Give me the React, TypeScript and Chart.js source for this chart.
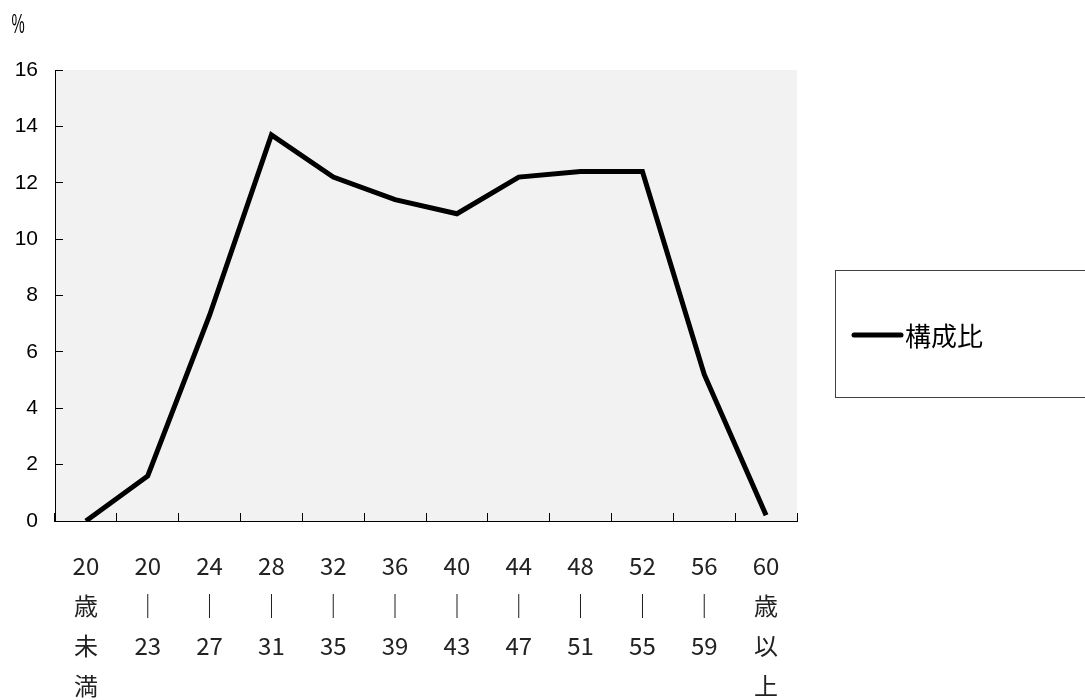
import React, { useEffect, useRef } from "react";
import { Chart, registerables } from "chart.js";

Chart.register(...registerables);

// ---- data ----
const categories: string[][] = [
  ["20", "歳", "未", "満"],
  ["20", "｜", "23"],
  ["24", "｜", "27"],
  ["28", "｜", "31"],
  ["32", "｜", "35"],
  ["36", "｜", "39"],
  ["40", "｜", "43"],
  ["44", "｜", "47"],
  ["48", "｜", "51"],
  ["52", "｜", "55"],
  ["56", "｜", "59"],
  ["60", "歳", "以", "上"],
];
const seriesLabel = "構成比";
const seriesValues = [0, 1.6, 7.3, 13.7, 12.2, 11.4, 10.9, 12.2, 12.4, 12.4, 5.2, 0.2];
const yMin = 0;
const yMax = 16;
const yStep = 2;
const unitLabel = "%";

const LATIN = "'Liberation Sans', Arial, sans-serif";
const CJK = "'Noto Sans CJK JP', 'Liberation Sans', sans-serif";

const decorPlugin = {
  id: "decor",
  beforeDraw(chart: any) {
    const { ctx, chartArea: a } = chart;
    ctx.save();
    ctx.fillStyle = "#f2f2f2";
    ctx.fillRect(a.left, a.top, a.right - a.left, a.bottom - a.top);
    ctx.restore();
  },
  afterDraw(chart: any) {
    const ctx = chart.ctx as CanvasRenderingContext2D;
    ctx.save();
    // unit label (condensed, like the original's half-width glyph)
    ctx.fillStyle = "#000";
    ctx.font = `27px ${LATIN}`;
    ctx.textBaseline = "alphabetic";
    ctx.textAlign = "left";
    ctx.translate(11.5, 33);
    ctx.scale(0.55, 1);
    ctx.fillText(unitLabel, 0, 0);
    ctx.restore();

    ctx.save();
    // legend box
    ctx.strokeStyle = "#404040";
    ctx.lineWidth = 1;
    ctx.strokeRect(835.5, 270.5, 300, 127);
    ctx.strokeStyle = "#000";
    ctx.lineWidth = 5;
    ctx.lineCap = "round";
    ctx.beginPath();
    ctx.moveTo(854, 335);
    ctx.lineTo(901, 335);
    ctx.stroke();
    ctx.fillStyle = "#000";
    ctx.font = `26px ${CJK}`;
    ctx.textBaseline = "middle";
    ctx.fillText(chart.data.datasets[0].label, 905, 336);
    ctx.restore();
  },
};

export default function App() {
  const ref = useRef<HTMLCanvasElement | null>(null);
  useEffect(() => {
    if (!ref.current) return;
    const chart = new Chart(ref.current, {
      type: "line",
      data: {
        labels: categories,
        datasets: [
          {
            label: seriesLabel,
            data: seriesValues,
            borderColor: "#000",
            borderWidth: 5,
            pointRadius: 0,
            tension: 0,
            fill: false,
            borderJoinStyle: "miter",
          },
        ],
      },
      options: {
        responsive: false,
        animation: false,
        layout: { padding: { left: 0, right: 288, top: 70, bottom: 0 } },
        plugins: {
          legend: { display: false },
          tooltip: { enabled: false },
          title: { display: false },
        },
        scales: {
          x: {
            type: "category",
            offset: true,
            grid: {
              offset: true,
              drawOnChartArea: false,
              tickLength: -8,
              color: "#000",
            },
            border: { color: "#000", width: 1 },
            ticks: {
              autoSkip: false,
              maxRotation: 0,
              minRotation: 0,
              padding: 33,
              color: "#222",
              font: { family: CJK, size: 24, lineHeight: 1.67 },
            },
            afterFit: (s: any) => {
              s.height = 179;
            },
          },
          y: {
            min: yMin,
            max: yMax,
            grid: {
              drawOnChartArea: false,
              tickLength: -8,
              color: "#000",
            },
            border: { color: "#000", width: 1 },
            ticks: {
              stepSize: yStep,
              padding: 25,
              color: "#000",
              font: { family: LATIN, size: 21 },
            },
            afterFit: (s: any) => {
              s.width = 55;
            },
          },
        },
      },
      plugins: [decorPlugin],
    });
    return () => chart.destroy();
  }, []);
  return (
    <div style={{ position: "absolute", left: 0, top: 0, width: 1085, height: 700, background: "#fff" }}>
      <canvas ref={ref} width={1085} height={700} />
    </div>
  );
}
